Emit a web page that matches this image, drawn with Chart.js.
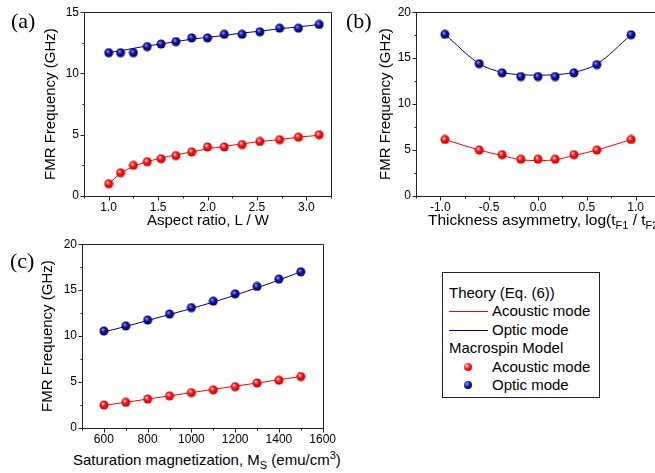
<!DOCTYPE html>
<html>
<head>
<meta charset="utf-8">
<script src="https://cdn.jsdelivr.net/npm/chart.js@4"></script>
<style>
  html, body { margin: 0; padding: 0; background: #fff; overflow: hidden; }
  body { width: 655px; height: 473px; position: relative; font-family: 'Liberation Sans', Arial, sans-serif; color: #000; }
  canvas { position: absolute; }
  .panel { position: absolute; font-family: 'Liberation Serif', 'Times New Roman', serif; font-size: 22px; line-height: 22px; }
  .xtitle { position: absolute; font-size: 15px; line-height: 18px; white-space: nowrap; }
  .xtitle sub, .xtitle sup { font-size: 11px; line-height: 0; }
  #legend { position: absolute; left: 442px; top: 272px; width: 156px; height: 124px; border: 1px solid #222; font-size: 15px; }
  #legend .row { position: absolute; left: 6px; height: 18px; line-height: 18px; white-space: nowrap; }
  #legend .sym { position: absolute; left: 0; top: 0; width: 40px; height: 18px; }
  #legend .txt { position: absolute; left: 43px; top: 0; }
  #legend .line { position: absolute; left: 0; top: 9px; width: 39px; height: 1px; }
  #legend .dot { position: absolute; left: 15px; top: 5px; width: 8px; height: 8px; border-radius: 50%; }
</style>
</head>
<body>
<canvas id="chartA" width="340" height="215" style="left:0;top:0"></canvas>
<canvas id="chartB" width="336" height="215" style="left:330px;top:0"></canvas>
<canvas id="chartC" width="340" height="215" style="left:0;top:232px"></canvas>

<div class="panel" style="left:11px;top:10px">(a)</div>
<div class="panel" style="left:346px;top:10px">(b)</div>
<div class="panel" style="left:10px;top:250px">(c)</div>

<div class="xtitle" style="left:147px;top:211px">Aspect ratio, L / W</div>
<div class="xtitle" style="left:428px;top:211px;font-size:15.5px">Thickness asymmetry, log(t<sub>F1</sub> / t<sub>F2</sub>)</div>
<div class="xtitle" style="left:73px;top:451px">Saturation magnetization, M<sub>S</sub> (emu/cm<sup>3</sup>)</div>

<div id="legend">
  <div class="row" style="top:11px"><span>Theory (Eq. (6))</span></div>
  <div class="row" style="top:29px"><span class="sym"><span class="line" style="background:#ff0000"></span></span><span class="txt">Acoustic mode</span></div>
  <div class="row" style="top:48px"><span class="sym"><span class="line" style="background:#000080"></span></span><span class="txt">Optic mode</span></div>
  <div class="row" style="top:66px"><span>Macrospin Model</span></div>
  <div class="row" style="top:85px"><span class="sym"><span class="dot" style="background:radial-gradient(circle at 35% 35%, #ffd0d0 0%, #ff1010 45%, #c00000 100%)"></span></span><span class="txt">Acoustic mode</span></div>
  <div class="row" style="top:103px"><span class="sym"><span class="dot" style="background:radial-gradient(circle at 35% 35%, #9090ff 0%, #1010a0 45%, #000060 100%)"></span></span><span class="txt">Optic mode</span></div>
</div>

<script>
// (a) Relación de aspecto
const aspectRatio = [1.0, 1.12, 1.25, 1.39, 1.53, 1.68, 1.84, 2.0, 2.17, 2.35, 2.53, 2.73, 2.92, 3.13];
const aAcousticSim = [1.0, 1.9, 2.5, 2.8, 3.05, 3.3, 3.6, 4.0, 4.0, 4.2, 4.45, 4.6, 4.8, 5.0];
const aOpticSim = [11.7, 11.7, 11.7, 12.2, 12.4, 12.6, 12.9, 12.9, 13.2, 13.2, 13.4, 13.7, 13.7, 14.0];
const aAcousticTheory = [1.0, 1.85, 2.4, 2.8, 3.1, 3.35, 3.6, 3.85, 4.05, 4.25, 4.45, 4.6, 4.8, 4.95];
const aOpticTheory = [11.7, 11.85, 12.05, 12.25, 12.4, 12.6, 12.8, 12.95, 13.1, 13.3, 13.45, 13.65, 13.8, 14.0];
const aXTicks = [1.0, 1.5, 2.0, 2.5, 3.0];
const aYTicks = [0, 5, 10, 15];

// (b) Asimetría de espesor
const logThickness = [-0.954, -0.602, -0.368, -0.176, 0, 0.176, 0.368, 0.602, 0.954];
const bAcousticSim = [6.15, 5.0, 4.5, 4.0, 4.0, 4.0, 4.5, 5.0, 6.15];
const bOpticSim = [17.6, 14.4, 13.4, 13.0, 13.0, 13.0, 13.4, 14.3, 17.55];
const bAcousticTheory = [6.15, 5.0, 4.4, 3.95, 3.85, 3.95, 4.4, 5.0, 6.15];
const bOpticTheory = [17.6, 14.4, 13.45, 13.2, 13.15, 13.2, 13.45, 14.35, 17.55];
const bXTicks = [-1.0, -0.5, 0.0, 0.5, 1.0];
const bYTicks = [0, 5, 10, 15, 20];

// (c) Magnetización de saturación
const magnetization = [600, 700, 800, 900, 1000, 1100, 1200, 1300, 1400, 1500];
const cAcousticSim = [2.5, 2.8, 3.15, 3.5, 3.85, 4.15, 4.5, 4.9, 5.2, 5.6];
const cOpticSim = [10.55, 11.1, 11.75, 12.4, 13.1, 13.8, 14.6, 15.4, 16.2, 17.0];
const cAcousticTheory = [2.45, 2.8, 3.15, 3.5, 3.85, 4.2, 4.55, 4.9, 5.25, 5.6];
const cOpticTheory = [10.45, 11.05, 11.7, 12.35, 13.0, 13.7, 14.45, 15.25, 16.1, 17.0];
const cXTicks = [600, 800, 1000, 1200, 1400, 1600];
const cYTicks = [0, 5, 10, 15, 20];

// Bolitas con brillo para los puntos
function makeBall(light, color, dark) {
    const c = document.createElement('canvas');
    c.width = c.height = 10;
    const g = c.getContext('2d');
    const grad = g.createRadialGradient(3.6, 3.4, 0.3, 5, 5, 4.8);
    grad.addColorStop(0, light);
    grad.addColorStop(0.45, color);
    grad.addColorStop(1, dark);
    g.fillStyle = grad;
    g.beginPath();
    g.arc(5, 5, 4.5, 0, Math.PI * 2);
    g.fill();
    return c;
}
const redBall = makeBall('#ffd0d0', '#ff1010', '#c00000');
const blueBall = makeBall('#9090ff', '#1010a0', '#000060');

// Marco y marcas de eje (mayores y menores)
const frameTicks = {
    id: 'frameTicks',
    afterDraw(chart, args, opts) {
        const {ctx, chartArea: a, scales: {x, y}} = chart;
        const L = Math.round(a.left) + 0.5, T = Math.round(a.top) + 0.5;
        const R = Math.round(a.right) + 0.5, B = Math.round(a.bottom) + 0.5;
        ctx.save();
        ctx.strokeStyle = '#222';
        ctx.lineWidth = 1;
        ctx.beginPath();
        ctx.rect(L, T, R - L, B - T);
        const nx = Math.round((x.max - x.min) / opts.xMinor);
        for (let i = 0; i <= nx; i++) {
            const v = x.min + i * opts.xMinor;
            const major = x.ticks.some(t => Math.abs(t.value - v) < 1e-6);
            const px = Math.round(x.getPixelForValue(v)) + 0.5;
            ctx.moveTo(px, B);
            ctx.lineTo(px, B + (major ? 4 : 2));
        }
        const ny = Math.round((y.max - y.min) / opts.yMinor);
        for (let i = 0; i <= ny; i++) {
            const v = y.min + i * opts.yMinor;
            const major = y.ticks.some(t => Math.abs(t.value - v) < 1e-6);
            const py = Math.round(y.getPixelForValue(v)) + 0.5;
            ctx.moveTo(L, py);
            ctx.lineTo(L - (major ? 4 : 2), py);
        }
        ctx.stroke();
        ctx.restore();
    }
};

function pts(xs, ys) {
    return xs.map((v, i) => ({x: v, y: ys[i]}));
}

function makePanel(id, cfg) {
    return new Chart(document.getElementById(id), {
        type: 'scatter',
        data: {
            datasets: [
                {data: pts(cfg.xs, cfg.acSim), pointStyle: redBall, pointRadius: 5, showLine: false},
                {data: pts(cfg.xs, cfg.opSim), pointStyle: blueBall, pointRadius: 5, showLine: false},
                {data: pts(cfg.xs, cfg.acTh), showLine: true, pointRadius: 0, borderColor: '#ff0000', borderWidth: 1, cubicInterpolationMode: 'monotone'},
                {data: pts(cfg.xs, cfg.opTh), showLine: true, pointRadius: 0, borderColor: '#000080', borderWidth: 1, cubicInterpolationMode: 'monotone'}
            ]
        },
        options: {
            responsive: false,
            animation: false,
            events: [],
            layout: {padding: cfg.padding},
            plugins: {
                legend: {display: false},
                tooltip: {enabled: false},
                frameTicks: {xMinor: cfg.xMinor, yMinor: 2.5}
            },
            scales: {
                x: {
                    type: 'linear',
                    min: cfg.xMin,
                    max: cfg.xMax,
                    grid: {display: false, drawTicks: false},
                    border: {display: false},
                    afterBuildTicks: s => { s.ticks = cfg.xTicks.map(v => ({value: v})); },
                    afterFit: s => { s.height = cfg.xHeight; },
                    ticks: {
                        padding: 4,
                        color: '#000',
                        font: {family: 'Liberation Sans', size: 12},
                        maxRotation: 0,
                        callback: cfg.xFormat
                    }
                },
                y: {
                    type: 'linear',
                    min: 0,
                    max: cfg.yMax,
                    grid: {display: false, drawTicks: false},
                    border: {display: false},
                    afterBuildTicks: s => { s.ticks = cfg.yTicks.map(v => ({value: v})); },
                    afterFit: s => { s.width = cfg.yWidth; },
                    ticks: {
                        padding: 5,
                        color: '#000',
                        font: {family: 'Liberation Sans', size: 12}
                    },
                    title: {
                        display: true,
                        text: 'FMR Frequency (GHz)',
                        color: '#000',
                        font: {family: 'Liberation Sans', size: 15},
                        padding: {top: cfg.titlePad, bottom: 0}
                    }
                }
            }
        },
        plugins: [frameTicks]
    });
}

const chartA = makePanel('chartA', {
    xs: aspectRatio, acSim: aAcousticSim, opSim: aOpticSim, acTh: aAcousticTheory, opTh: aOpticTheory,
    xMin: 0.75, xMax: 3.25, xTicks: aXTicks, xMinor: 0.25, xFormat: v => v.toFixed(1),
    yMax: 15, yTicks: aYTicks,
    padding: {left: 0, top: 9, right: 9, bottom: 0}, yWidth: 84, xHeight: 19, titlePad: 42
});

const chartB = makePanel('chartB', {
    xs: logThickness, acSim: bAcousticSim, opSim: bOpticSim, acTh: bAcousticTheory, opTh: bOpticTheory,
    xMin: -1.25, xMax: 1.25, xTicks: bXTicks, xMinor: 0.25, xFormat: v => v.toFixed(1),
    yMax: 20, yTicks: bYTicks,
    padding: {left: 0, top: 9, right: 0, bottom: 0}, yWidth: 86, xHeight: 19, titlePad: 47
});

const chartC = makePanel('chartC', {
    xs: magnetization, acSim: cAcousticSim, opSim: cOpticSim, acTh: cAcousticTheory, opTh: cOpticTheory,
    xMin: 500, xMax: 1600, xTicks: cXTicks, xMinor: 100, xFormat: v => String(v),
    yMax: 20, yTicks: cYTicks,
    padding: {left: 0, top: 9, right: 10, bottom: 0}, yWidth: 82, xHeight: 19, titlePad: 39
});
</script>
</body>
</html>
